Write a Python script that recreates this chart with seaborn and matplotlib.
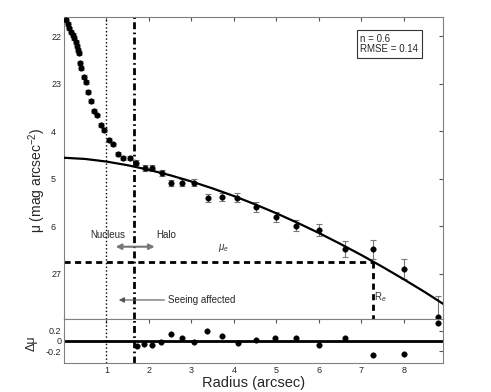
import matplotlib
matplotlib.use("Agg")
import matplotlib.pyplot as plt
import seaborn as sns
import pandas as pd

# surface brightness profile
radius = [0.052, 0.089, 0.129, 0.169, 0.207, 0.247, 0.287, 0.311, 0.334, 0.358,
          0.365, 0.405, 0.482, 0.522, 0.56, 0.64, 0.70, 0.77, 0.86, 0.95,
          1.05, 1.165, 1.27, 1.40, 1.56, 1.70, 1.91, 2.08, 2.30, 2.52,
          2.77, 3.05, 3.38, 3.72, 4.07, 4.51, 4.98, 5.45, 6.00, 6.62,
          7.27, 8.01, 8.81]
mu = [21.66, 21.75, 21.84, 21.91, 21.98, 22.05, 22.12, 22.21, 22.29, 22.36,
      22.56, 22.67, 22.87, 22.96, 23.17, 23.37, 23.58, 23.67, 23.87, 23.97,
      24.18, 24.28, 24.48, 24.56, 24.56, 24.66, 24.78, 24.78, 24.88, 25.09,
      25.08, 25.08, 25.40, 25.39, 25.40, 25.60, 25.80, 25.99, 26.08, 26.48,
      26.48, 26.89, 27.90]
mu_err = [0.04] * 25 + [0.05, 0.06, 0.06, 0.06, 0.07,
                        0.08, 0.08, 0.08, 0.08, 0.09, 0.11, 0.11, 0.12, 0.12, 0.16,
                        0.20, 0.21, 0.44]

# Sersic fit curve
fit_r = [0.0, 0.5, 1.0, 1.5, 2.0, 2.5, 3.0, 3.5, 4.0, 4.5, 5.0, 5.5,
         6.0, 6.5, 7.0, 7.5, 8.0, 8.5, 8.92]
fit_mu = [24.56, 24.585, 24.64, 24.717, 24.814, 24.928, 25.059, 25.205, 25.365,
          25.54, 25.728, 25.929, 26.142, 26.369, 26.606, 26.856, 27.117, 27.388, 27.63]

# residuals of the halo points
resid_r = [1.72, 1.89, 2.07, 2.29, 2.53, 2.78, 3.06, 3.37, 3.72, 4.10,
           4.51, 4.97, 5.46, 6.01, 6.62, 7.28, 8.01, 8.81]
resid = [-0.10, -0.05, -0.07, -0.025, 0.13, 0.06, -0.02, 0.19, 0.09, -0.04,
         0.025, 0.06, 0.06, -0.07, 0.06, -0.27, -0.24, 0.34]

mu_e = 26.76
r_e = 7.27
r_seeing = 1.0
r_halo = 1.65

ytick_vals = [22, 23, 24, 25, 26, 27]
ytick_text = ["22", "23", "4  ", "5  ", "6  ", "27"]

sns.set_style("white")
plt.rcParams['font.family'] = ['Liberation Sans', 'DejaVu Sans']
plt.rcParams['mathtext.fontset'] = 'custom'
plt.rcParams['mathtext.rm'] = 'Liberation Sans'
plt.rcParams['mathtext.it'] = 'Liberation Sans:italic'

prof = pd.DataFrame({"r": radius, "mu": mu})
fit = pd.DataFrame({"r": fit_r, "mu": fit_mu})
res = pd.DataFrame({"r": resid_r, "d": resid})

fig = plt.figure(figsize=(4.91, 3.92), dpi=100)
ax = fig.add_axes([64 / 491, 1 - 319 / 392, 379 / 491, 302 / 392])
axr = fig.add_axes([64 / 491, 1 - 363 / 392, 379 / 491, 44 / 392])

# main panel
ax.errorbar(radius, mu, yerr=mu_err, fmt="none", ecolor="#777777", elinewidth=0.8,
            capsize=2.5, capthick=0.8, zorder=2)
sns.scatterplot(data=prof, x="r", y="mu", ax=ax, color="black", s=16,
                edgecolor="black", linewidth=0.3, zorder=3, legend=False)
sns.lineplot(data=fit, x="r", y="mu", ax=ax, color="black", lw=1.6, zorder=4)

for a in (ax, axr):
    a.axvline(r_seeing, color="black", ls=":", lw=1.0, zorder=1)
    a.axvline(r_halo, color="black", ls=(0, (2.5, 1.2, 0.6, 1.2)), lw=2.0, zorder=1)

ax.plot([0, r_e], [mu_e, mu_e], color="black", ls=(0, (2.2, 1.6)), lw=2.0)
ax.plot([r_e, r_e], [mu_e, 27.95], color="black", ls=(0, (2.2, 1.6)), lw=2.0)

ax.text(1.03, 26.18, "Nucleus", fontsize=7, ha="center", va="center")
ax.text(2.40, 26.18, "Halo", fontsize=7, ha="center", va="center")
ax.annotate("", xy=(1.15, 26.43), xytext=(2.2, 26.43),
            arrowprops=dict(arrowstyle="<|-|>", color="#777777", lw=1.5, mutation_scale=8))
ax.text(3.76, 26.45, r"$\mu_e$", fontsize=7, color="#333333", ha="center", va="center")
ax.text(7.44, 27.48, r"R$_e$", fontsize=7, color="#333333", ha="center", va="center")
ax.annotate("Seeing affected", xy=(1.29, 27.55), xytext=(2.44, 27.55), fontsize=7,
            ha="left", va="center",
            arrowprops=dict(arrowstyle="-|>", color="#555555", lw=0.8, mutation_scale=8,
                            shrinkA=0, shrinkB=0))
ax.text(0.782, 0.945, "n = 0.6\nRMSE = 0.14", transform=ax.transAxes, fontsize=7,
        va="top", ha="left", linespacing=1.1,
        bbox=dict(facecolor="white", edgecolor="#333333", lw=0.8, boxstyle="square,pad=0.35"))

ax.set_xlim(0, 8.92)
ax.set_ylim(27.95, 21.6)
ax.set_yticks(ytick_vals)
ax.set_yticklabels(ytick_text)
ax.set_xticks(range(1, 9))
ax.set_xticklabels([])
ax.set_xlabel("")
ax.set_ylabel(r"μ (mag arcsec$^{-2}$)", fontsize=10)
ax.yaxis.set_label_coords(-0.042, 0.459)

# residual panel
axr.axhline(0, color="black", lw=2.0, zorder=2)
sns.scatterplot(data=res, x="r", y="d", ax=axr, color="black", s=16,
                edgecolor="black", linewidth=0.3, zorder=3, legend=False)
axr.set_xlim(0, 8.92)
axr.set_ylim(-0.42, 0.42)
axr.set_xticks(range(1, 9))
axr.set_yticks([-0.2, 0, 0.2])
axr.set_yticklabels(["-0.2", "0", "0.2"])
axr.set_xlabel("Radius (arcsec)", fontsize=10.5, labelpad=1)
axr.set_ylabel("Δμ", fontsize=9)
axr.yaxis.set_label_coords(-0.069, 0.45)

for a in (ax, axr):
    a.tick_params(direction="in", length=3, width=0.8, color="#555555",
                  labelsize=6.5, top=True, right=True, pad=2)
    for sp in a.spines.values():
        sp.set_color("#808080")
        sp.set_linewidth(0.8)

fig.savefig("out.png", dpi=100)
